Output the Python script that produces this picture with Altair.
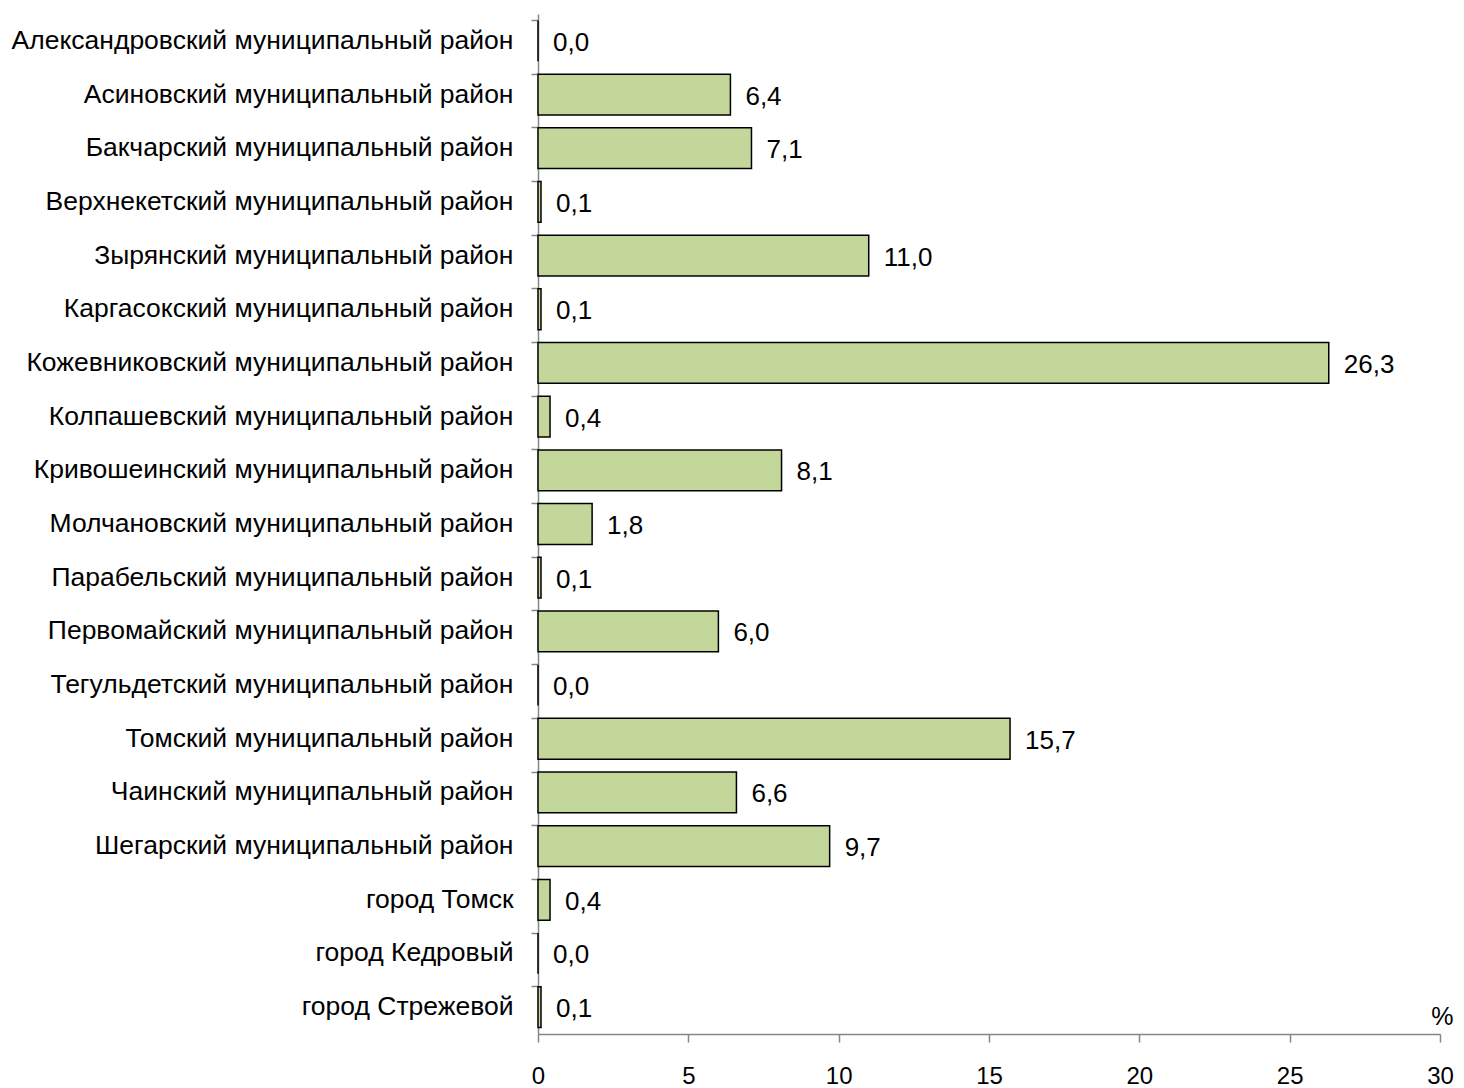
import altair as alt
import pandas as pd

regions = [
    "Александровский муниципальный район",
    "Асиновский муниципальный район",
    "Бакчарский муниципальный район",
    "Верхнекетский муниципальный район",
    "Зырянский муниципальный район",
    "Каргасокский муниципальный район",
    "Кожевниковский муниципальный район",
    "Колпашевский муниципальный район",
    "Кривошеинский муниципальный район",
    "Молчановский муниципальный район",
    "Парабельский муниципальный район",
    "Первомайский муниципальный район",
    "Тегульдетский муниципальный район",
    "Томский муниципальный район",
    "Чаинский муниципальный район",
    "Шегарский муниципальный район",
    "город Томск",
    "город Кедровый",
    "город Стрежевой",
]
values = [0.0, 6.4, 7.1, 0.1, 11.0, 0.1, 26.3, 0.4, 8.1, 1.8, 0.1, 6.0, 0.0, 15.7, 6.6, 9.7, 0.4, 0.0, 0.1]
x_ticks = [0, 5, 10, 15, 20, 25, 30]

df = pd.DataFrame({"region": regions, "value": values})

FONT = "Liberation Sans"
W, H = 902, 1020

y_enc = alt.Y(
    "region:N",
    sort=regions,
    scale=alt.Scale(paddingInner=0.24, paddingOuter=0.12),
    axis=alt.Axis(
        title=None,
        bandPosition=0,
        labelFont=FONT,
        labelFontSize=26.5,
        labelColor="#000000",
        labelPadding=18,
        labelLimit=700,
        tickSize=7,
        tickColor="#868686",
        domainColor="#868686",
        domainWidth=1.5,
        tickWidth=1.5,
    ),
)
x_enc = alt.X(
    "value:Q",
    scale=alt.Scale(domain=[0, 30], nice=False),
    axis=alt.Axis(
        title="%",
        titleFont=FONT,
        titleFontSize=25,
        titleFontWeight="normal",
        titleColor="#000000",
        titleAngle=0,
        titleX=W + 13,
        titleY=-5,
        titleAlign="right",
        titleBaseline="bottom",
        values=x_ticks,
        grid=False,
        labelFont=FONT,
        labelFontSize=24,
        labelColor="#000000",
        labelPadding=22,
        labelFlush=False,
        tickSize=8,
        tickColor="#868686",
        domainColor="#868686",
        domainWidth=1.5,
        tickWidth=1.5,
    ),
)

bars = alt.Chart(df).mark_bar(
    fill="#C4D79B", stroke="#000000", strokeWidth=1.5
).encode(y=y_enc, x=x_enc)

labels = alt.Chart(df).transform_calculate(
    lbl="replace(format(datum.value, '.1f'), '.', ',')"
).mark_text(
    align="left", baseline="middle", dx=15, dy=2, font=FONT, fontSize=26, color="#000000"
).encode(
    y=alt.Y("region:N", sort=regions),
    x=alt.X("value:Q"),
    text="lbl:N",
)

chart = (
    alt.layer(bars, labels)
    .properties(
        width=W,
        height=H,
        autosize=alt.AutoSizeParams(type="none"),
        padding={"left": 530, "top": 6, "right": 14, "bottom": 60},
    )
    .configure_view(stroke=None)
)

chart.save("out.html", embed_options={"renderer": "svg", "actions": False})
